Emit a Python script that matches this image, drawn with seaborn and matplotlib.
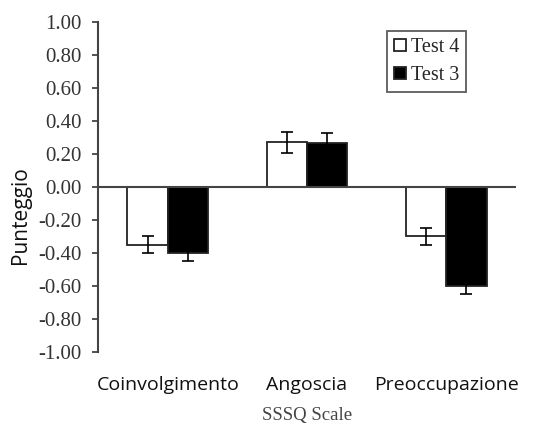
import numpy as np
import pandas as pd
import matplotlib
matplotlib.use("Agg")
import matplotlib.pyplot as plt
import seaborn as sns

# --- data -------------------------------------------------------------------
scales = ["Coinvolgimento", "Angoscia", "Preoccupazione"]
test4_mean = [-0.35, 0.27, -0.30]
test4_err = [0.05, 0.065, 0.05]
test3_mean = [-0.40, 0.265, -0.60]
test3_err = [0.05, 0.065, 0.05]
groups = ["Test 4", "Test 3"]
yticks = [-1.0, -0.8, -0.6, -0.4, -0.2, 0.0, 0.2, 0.4, 0.6, 0.8, 1.0]

df = pd.DataFrame({
    "scale": scales * 2,
    "test": [groups[0]] * 3 + [groups[1]] * 3,
    "mean": test4_mean + test3_mean,
    "err": test4_err + test3_err,
})

# --- figure -----------------------------------------------------------------
sns.set_style("white")
plt.rcParams["font.family"] = ["Liberation Serif", "DejaVu Serif"]

fig = plt.figure(figsize=(5.39, 4.25), dpi=100)
ax = fig.add_axes([0.182, 0.172, 0.775, 0.776])

sns.barplot(data=df, x="scale", y="mean", hue="test", order=scales,
            hue_order=groups, palette={"Test 4": "white", "Test 3": "black"},
            errorbar=None, width=0.58, edgecolor="#222222", linewidth=1.3,
            ax=ax)

# error bars at the centre of every bar
for cont, g in zip(ax.containers, groups):
    sub = df[df["test"] == g].set_index("scale").loc[scales]
    xs = [p.get_x() + p.get_width() / 2 for p in cont.patches]
    ax.errorbar(xs, sub["mean"], yerr=sub["err"], fmt="none",
                ecolor="black", elinewidth=1.2, capsize=4, capthick=1.2,
                zorder=5)

ax.axhline(0, color="#444444", linewidth=1.5, zorder=4)

ax.set_xlim(-0.5, 2.5)
ax.set_ylim(-1.0, 1.0)
ax.set_yticks(yticks)
ax.set_yticklabels([f"{v:.2f}" for v in yticks], fontsize=15, color="#333333")
ax.tick_params(axis="y", direction="out", length=4, width=1.3, color="#444444",
               left=True, pad=8)
ax.tick_params(axis="x", length=0, pad=17)
for lbl in ax.get_xticklabels():
    lbl.set_family(["Open Sans", "DejaVu Sans"])
    lbl.set_fontsize(14)
    lbl.set_color("#111111")

for s in ["top", "right", "bottom"]:
    ax.spines[s].set_visible(False)
ax.spines["left"].set_color("#444444")
ax.spines["left"].set_linewidth(1.5)

ax.set_xlabel("SSSQ Scale", fontsize=13.5, color="#444444", labelpad=10)
ax.set_ylabel("Punteggio", family=["Open Sans", "DejaVu Sans"], fontsize=15,
              color="#111111")
ax.yaxis.set_label_coords(-0.16, 0.415)

handles, labels = ax.get_legend_handles_labels()
ax.legend(handles, labels, loc="upper left", bbox_to_anchor=(0.691, 0.973),
          fontsize=14.5, frameon=True, fancybox=False, edgecolor="#333333",
          handlelength=0.6, handleheight=0.6, handletextpad=0.25,
          borderpad=0.35, labelspacing=0.45, borderaxespad=0)
ax.get_legend().get_frame().set_linewidth(1.3)

fig.savefig("out.png", dpi=100)
